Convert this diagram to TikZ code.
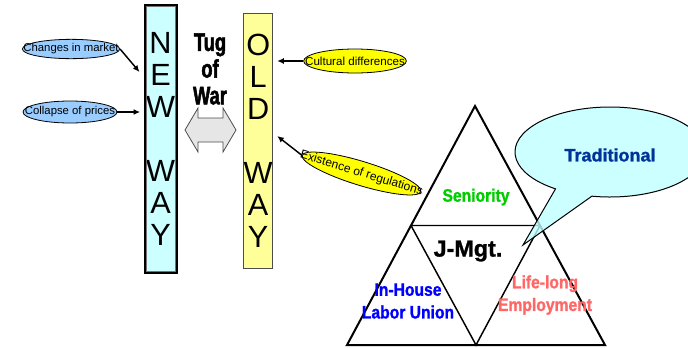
\documentclass[tikz,border=0pt]{standalone}
\usepackage{fontspec}
\setmainfont{Liberation Sans}
\newfontfamily\tugfont[FakeStretch=0.72,FakeBold=2]{Liberation Sans}
\newfontfamily\popfont[FakeStretch=0.87,FakeBold=1.2]{Liberation Sans}
\newfontfamily\heavyfont[FakeBold=1.2]{Liberation Sans}
\usetikzlibrary{shapes.geometric,arrows.meta,calc}

\definecolor{newcyan}{HTML}{CCFFFF}
\definecolor{oldyellow}{HTML}{FFFF99}
\definecolor{causeblue}{HTML}{99CCFF}
\definecolor{causeyellow}{HTML}{FFFF00}
\definecolor{bubblecyan}{HTML}{BFFFFF}
\definecolor{tradblue}{HTML}{003399}
\definecolor{senigreen}{HTML}{00CC00}
\definecolor{unionblue}{HTML}{0000FF}
\definecolor{lifered}{HTML}{FF6666}
\definecolor{arrowgray}{HTML}{E6E6E6}

\tikzset{
  cause/.style={ellipse, draw=black, line width=0.6pt, inner sep=0pt,
    font=\fontsize{8.5}{9}\selectfont},
  waybox/.style={inner sep=0pt, align=center, font=\fontsize{23}{24}\selectfont},
  arr/.style={-{Latex[length=5pt,width=4.5pt]}, line width=1.1pt},
  jlabel/.style={font=\popfont\bfseries\fontsize{13.5}{17}\selectfont, align=center},
}

\begin{document}
\begin{tikzpicture}[x=0.75pt, y=-0.75pt]
\useasboundingbox (0,0) rectangle (688,347);

% the two ways
\node[waybox, draw=black, line width=2.25pt, fill=newcyan,
      minimum width=23.25pt, minimum height=200.25pt] (nw) at (160.5,139)
      {N\\E\\W\\[24pt]W\\A\\Y};
\draw[black!55, line width=0.6pt]
  ([shift={(2.6,2.6)}]nw.north west) rectangle ([shift={(-2.6,-2.6)}]nw.south east);

\node[waybox, draw=black!70, line width=0.75pt, fill=oldyellow,
      minimum width=18pt, minimum height=191.25pt] (ow) at (258.2,141)
      {O\\L\\D\\[24pt]W\\A\\Y};

% tug of war
\node[font=\tugfont\bfseries\fontsize{19}{20}\selectfont, align=center] (tug) at (210,69)
  {Tug\\of\\War};
\draw[fill=arrowgray, draw=black!70, line width=0.6pt]
  (185,130) -- (198,108) -- (198,118) -- (223,118) -- (223,108) -- (236,130)
  -- (223,152) -- (223,142) -- (198,142) -- (198,152) -- cycle;

% forces
\node[cause, fill=causeblue, minimum width=73pt, minimum height=14.5pt] (chg) at (71,49)
  {\makebox[0pt]{Changes in market}};
\node[cause, fill=causeblue, minimum width=70.5pt, minimum height=16.5pt] (col) at (70,112)
  {\makebox[0pt]{Collapse of prices}};
\node[cause, fill=causeyellow, minimum width=77pt, minimum height=18pt,
      font=\fontsize{8.7}{9}\selectfont] (cul) at (355,61)
  {\makebox[0pt]{Cultural differences}};
\node[cause, fill=causeyellow, minimum width=93pt, minimum height=18pt, rotate=-17,
      font=\fontsize{9}{10}\selectfont] (ex) at (361.5,173.5)
  {\makebox[0pt]{Existence of regulations}};

\draw[arr] (chg.east) -- ([xshift=-3]nw.west |- 0,72);
\draw[arr] (col.east) -- ([xshift=-2.5]nw.west |- col.east);
\draw[arr] (cul.west) -- ([xshift=3]ow.east |- cul.west);
\draw[arr] (ex.west) -- ([xshift=3]ow.east |- 0,136);

% the triangle of Japanese management
\coordinate (apex) at (475,106);
\coordinate (bl) at (347,345);
\coordinate (br) at (605,345);
\coordinate (ml) at ($(apex)!0.5!(bl)$);
\coordinate (mr) at ($(apex)!0.5!(br)$);
\coordinate (mb) at ($(bl)!0.5!(br)$);
\draw[line width=1.5pt, line join=miter] (apex) -- (bl) -- (br) -- cycle;
\draw[line width=1.1pt] (ml) -- (mr) -- (mb) -- cycle;

% speech bubble
\draw[fill=bubblecyan, fill opacity=0.8, line width=0.75pt]
  (610,152) ++(125:95 and 45)
  arc[start angle=125, end angle=461, x radius=95, y radius=45]
  -- (523,245) -- cycle;
\node[font=\heavyfont\bfseries\fontsize{13.5}{16}\selectfont, text=tradblue] (trad) at (610,155) {Traditional};

\node[jlabel, text=senigreen] (sen) at (476,197) {Seniority};
\node[font=\heavyfont\bfseries\fontsize{17.5}{20}\selectfont] (jm) at (468,251) {J-Mgt.};
\node[jlabel, text=unionblue] (uni) at (408,301) {In-House\\Labor Union};
\node[jlabel, text=lifered] (life) at (545,295) {Life-long\\Employment};
\end{tikzpicture}
\end{document}
